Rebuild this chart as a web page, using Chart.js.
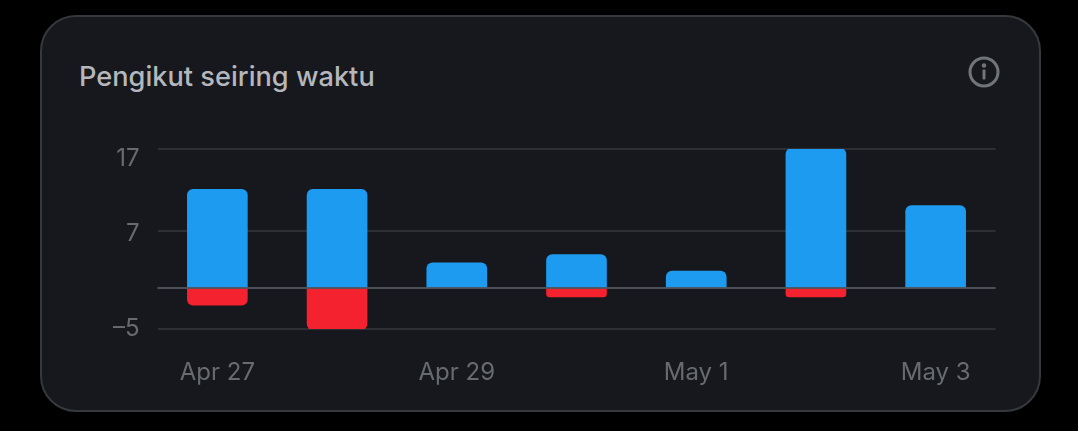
<!DOCTYPE html>
<html>
<head>
<meta charset="utf-8">
<script src="https://cdn.jsdelivr.net/npm/chart.js@4"></script>
<style>
    html, body { margin: 0; background: #000; }
    #wrap { position: relative; width: 1078px; height: 431px; overflow: hidden; font-family: Inter, sans-serif; }
    #card {
        position: absolute; left: 40px; top: 15px; width: 1001px; height: 397px; box-sizing: border-box;
        background: #16181d; border: 2px solid #35383c; border-radius: 36px;
    }
    #title { position: absolute; left: 79px; top: 60px; font-size: 27.2px; line-height: 34px; font-weight: 500; color: #b4b7bb; white-space: nowrap; }
    #info { position: absolute; left: 968px; top: 56px; }
    canvas { position: absolute; left: 0; top: 0; }
</style>
</head>
<body>
<div id="wrap">
    <div id="card"></div>
    <div id="title">Pengikut seiring waktu</div>
    <svg id="info" width="32" height="32" viewBox="0 0 32 32">
        <circle cx="16" cy="16" r="14" fill="none" stroke="#71757a" stroke-width="3"/>
        <circle cx="16" cy="9.5" r="2.2" fill="#71757a"/>
        <rect x="14.5" y="13.5" width="3" height="10" rx="1" fill="#71757a"/>
    </svg>
    <canvas id="followersChart" width="1078" height="431"></canvas>
</div>
<script>
const days = ['Apr 27', 'Apr 28', 'Apr 29', 'Apr 30', 'May 1', 'May 2', 'May 3'];
const gained = [12, 12, 3, 4, 2, 17, 10];
const lost = [-2, -5, null, -1, null, -1, null];
const yTicks = [-5, 0, 7, 17];
const hiddenTickValue = 0;

// the top labels sit a bit under their grid line, an empty first line pushes them down
const labelLineHeight = { 17: '20px', 7: '5px' };

const zeroLine = {
    id: 'zeroLine',
    afterDatasetsDraw(chart) {
        const { ctx, chartArea, scales } = chart;
        const y = Math.round(scales.y.getPixelForValue(0));
        ctx.save();
        ctx.fillStyle = 'rgba(80, 84, 90, 0.9)';
        ctx.fillRect(chartArea.left, y - 1, chartArea.right - chartArea.left, 2);
        ctx.restore();
    }
};

new Chart(document.getElementById('followersChart'), {
    type: 'bar',
    data: {
        labels: days,
        datasets: [{
            data: gained,
            backgroundColor: '#1d9bf0',
            borderRadius: 6,
            borderSkipped: 'start',
            inflateAmount: 1,
            barPercentage: 0.49,
            categoryPercentage: 1
        }, {
            data: lost,
            backgroundColor: '#f4212e',
            borderRadius: 6,
            borderSkipped: 'start',
            inflateAmount: 1,
            barPercentage: 0.49,
            categoryPercentage: 1
        }]
    },
    options: {
        responsive: false,
        animation: false,
        events: [],
        layout: { padding: { left: 0, right: 82.5, top: 149, bottom: 0 } },
        plugins: { legend: { display: false }, tooltip: { enabled: false } },
        scales: {
            x: {
                stacked: true,
                grid: { display: false },
                border: { display: false },
                afterFit(scale) { scale.height = 102; },
                ticks: {
                    autoSkip: false,
                    maxRotation: 0,
                    padding: 21,
                    color: '#676a6f',
                    font: { family: 'Inter', size: 24 },
                    callback(value, index) { return index % 2 === 0 ? days[index] : ''; }
                }
            },
            y: {
                stacked: true,
                min: -5,
                max: 17,
                afterBuildTicks(scale) { scale.ticks = yTicks.map(value => ({ value })); },
                afterFit(scale) { scale.width = 157.5; },
                grid: { color: '#2c2f34', lineWidth: 2, drawTicks: false },
                border: { display: false },
                ticks: {
                    autoSkip: false,
                    padding: 18,
                    color: '#676a6f',
                    font: ctx => ({
                        family: 'Inter',
                        size: 24,
                        lineHeight: (ctx.tick && labelLineHeight[ctx.tick.value]) || 1.2
                    }),
                    callback(value) {
                        if (value === hiddenTickValue) return '';
                        if (labelLineHeight[value]) return ['', String(value)];
                        return value < 0 ? '\u2013' + Math.abs(value) : value;
                    }
                }
            }
        }
    },
    plugins: [zeroLine]
});
</script>
</body>
</html>
